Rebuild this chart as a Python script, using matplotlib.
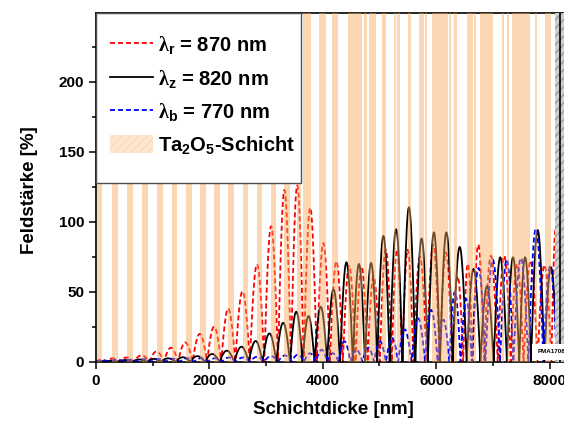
import numpy as np
import matplotlib.pyplot as plt
from matplotlib.lines import Line2D
from matplotlib.patches import Patch, Rectangle

plt.rcParams['font.family'] = ['Liberation Sans', 'DejaVu Sans']
plt.rcParams['font.weight'] = 'bold'
plt.rcParams['mathtext.fontset'] = 'custom'
plt.rcParams['mathtext.rm'] = 'Liberation Serif'
plt.rcParams['mathtext.bf'] = 'Liberation Sans:bold'
plt.rcParams['mathtext.it'] = 'Liberation Serif:italic'

# Ta2O5 layers [nm]
ta_start = [12, 288, 542, 817, 1081, 1332, 1588, 1835, 2090, 2334, 2588, 2835, 3078, 3322,
            3537, 3646, 3928, 4163, 4451, 4733, 4810, 5045, 5251, 5310, 5498, 5692, 5809,
            5927, 6232, 6320, 6539, 6673, 6779, 7162, 7245, 7338, 7749, 7926]
ta_end = [111, 388, 647, 917, 1182, 1434, 1688, 1940, 2193, 2434, 2687, 2934, 3181, 3422,
          3616, 3793, 4057, 4264, 4692, 4775, 4939, 5116, 5292, 5363, 5557, 5781, 5839,
          6204, 6262, 6363, 6645, 6703, 6998, 7202, 7291, 7661, 7779, 8026]
substrate_start = 8098
interface = 8185

# field maxima (position [nm], height [%]) for each wavelength
red_x = [71, 288, 529, 806, 1071, 1323, 1570, 1835, 2082, 2334, 2579, 2844, 3092, 3327,
         3549, 3775, 4013, 4239, 4468, 4687, 4892, 5116, 5318, 5481, 5715, 5950, 6174,
         6391, 6562, 6721, 6968, 7203, 7427, 7656, 7920, 8144]
red_y = [1.5, 2.4, 3, 4.6, 7.3, 10, 13.8, 19.9, 25, 38, 50.3, 69.5, 96.8, 122.7, 126, 110,
         84.8, 71.7, 68.5, 68, 61, 80, 80, 80, 75, 83.6, 78, 61, 70, 83.6, 75.7, 75.7, 70,
         72, 69, 95]
black_x = [71, 265, 512, 776, 1011, 1275, 1529, 1787, 2051, 2305, 2570, 2817, 3057, 3304,
           3540, 3745, 3964, 4186, 4422, 4639, 4851, 5068, 5292, 5521, 5745, 5962, 6174,
           6409, 6668, 6892, 7135, 7361, 7568, 7779, 8038]
black_y = [0.5, 0.8, 1.2, 1.6, 2.0, 2.4, 3.2, 4.0, 5.5, 7.9, 10.7, 14.8, 20.2, 27.8, 35.7,
           32.6, 39.3, 51.7, 71, 69.8, 70.5, 89.9, 94.6, 110.3, 88, 92.4, 92.4, 82, 66.4,
           54, 74.6, 74.6, 74.6, 94, 67.5]
blue_x = [123, 370, 617, 864, 1111, 1358, 1605, 1852, 2099, 2346, 2593, 2840, 3087, 3334,
          3563, 3775, 3981, 4181, 4375, 4599, 4798, 5010, 5216, 5442, 5685, 5922, 6130,
          6333, 6527, 6730, 7008, 7245, 7479, 7774, 8009]
blue_y = [1, 1.5, 1.5, 2, 2, 2.2, 2.5, 2.5, 2.5, 3, 3, 3.5, 4, 4.5, 5, 6, 8.5, 6, 14.5, 8.5,
          10, 14.5, 17, 23, 31, 37, 30, 50, 45, 67, 73, 73, 74, 95, 68]


def lobes(px, py, end):
    # arches between the nodes that sit halfway between neighbouring maxima
    px = np.asarray(px, float)
    nodes = np.concatenate([[0], (px[1:] + px[:-1]) / 2, [end]])
    xs, ys = [], []
    for i, h in enumerate(py):
        t = np.linspace(0, 1, 25)
        xs.append(nodes[i] + t * (nodes[i + 1] - nodes[i]))
        ys.append(h * np.sin(np.pi * t))
    return np.concatenate(xs), np.concatenate(ys)


fig = plt.figure(figsize=(5.64, 4.24), dpi=100)
ax = fig.add_axes([96 / 564, 1 - 361.7 / 424, 468 / 564, 348.7 / 424])

dash = (0, (2.8, 1.6))
x, y = lobes(red_x, red_y, interface)
ax.plot(x, y, color='#FF0000', lw=1.3, ls=dash, zorder=2)
x, y = lobes(black_x, black_y, 8140)
ax.plot(x, y, color='black', lw=1.3, zorder=2)
x, y = lobes(blue_x, blue_y, 8130)
ax.plot(x, y, color='#0000FF', lw=1.3, ls=dash, zorder=2)

for a, b in zip(ta_start, ta_end):
    ax.axvspan(a, b, color='#F9A857', alpha=0.45, lw=0, zorder=3)
ax.axvspan(substrate_start, 8300, facecolor='#CFCFCF', edgecolor='#9A9A9A', hatch='////',
           lw=0, zorder=3)
ax.axvline(interface, color='black', lw=1.2, zorder=4)

ax.set_xlim(0, 8255)
ax.set_ylim(0, 249)
ax.set_xticks([0, 2000, 4000, 6000, 8000])
ax.set_xticks([1000, 3000, 5000, 7000], minor=True)
ax.set_yticks([0, 50, 100, 150, 200])
ax.set_yticks([25, 75, 125, 175, 225], minor=True)
ax.tick_params(which='major', direction='out', length=5, width=1.1, labelsize=11)
ax.tick_params(which='minor', direction='out', length=3, width=1.1)
ax.spines['right'].set_visible(False)
for s in ['left', 'bottom', 'top']:
    ax.spines[s].set_linewidth(1.2)
for lab in ax.get_xticklabels() + ax.get_yticklabels():
    lab.set_fontweight('bold')

ax.text(7797, 7, 'PMA17084', fontsize=4.5, fontweight='bold', va='center', zorder=7,
        bbox=dict(facecolor='white', edgecolor='none', pad=4))

# legend box
ax.add_patch(Rectangle((0, 0.513), 0.4374, 0.487, transform=ax.transAxes, facecolor='white',
                       edgecolor='#505050', lw=1.0, zorder=8))
handles = [Line2D([], [], color='#FF0000', lw=1.3, ls=dash),
           Line2D([], [], color='black', lw=1.3),
           Line2D([], [], color='#0000FF', lw=1.3, ls=dash),
           Patch(facecolor='#FDE6CF', edgecolor='#FAD9B8', hatch='////', lw=0)]
labels = [r'$\mathrm{\lambda}_\mathbf{r}$ = 870 nm', r'$\mathrm{\lambda}_\mathbf{z}$ = 820 nm',
          r'$\mathrm{\lambda}_\mathbf{b}$ = 770 nm', r'Ta$_\mathbf{2}$O$_\mathbf{5}$-Schicht']
leg = ax.legend(handles, labels, loc='upper left', bbox_to_anchor=(0.03, 0.939),
                frameon=False, fontsize=14.5, handlelength=2.15, handleheight=1.0,
                handletextpad=0.25, labelspacing=0.56, borderpad=0, borderaxespad=0)
leg.set_zorder(9)

fig.text(333 / 564, 1 - 409 / 424, 'Schichtdicke [nm]', ha='center', va='center',
         fontsize=13.5, fontweight='bold')
fig.text(30 / 564, 1 - 190 / 424, 'Feldstärke [%]', ha='center', va='center', rotation=90,
         fontsize=13.5, fontweight='bold')

plt.savefig('out.png', dpi=100)
